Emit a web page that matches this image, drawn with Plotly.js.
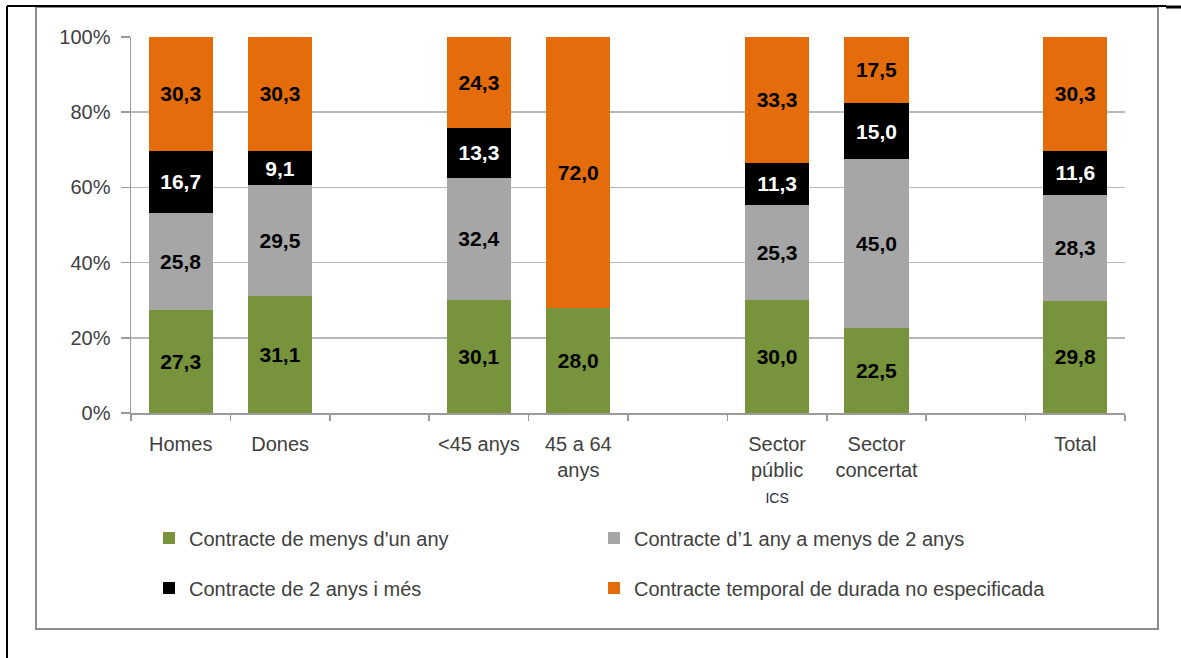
<!DOCTYPE html>
<html>
<head>
<meta charset="utf-8">
<script src="https://cdn.plot.ly/plotly-3.0.1.min.js"></script>
<style>html,body{margin:0;padding:0;background:#fff;}#chart{width:1181px;height:658px;}</style>
</head>
<body>
<div id="chart"></div>
<script>
// Categories (blank slots are the gaps between groups)
const categories = ["Homes", "Dones", " ", "<45 anys", "45 a 64<br>anys", "  ",
  "Sector<br>públic<br><span style=\"font-size:14px;color:#1f2a44\">ICS</span>", "Sector<br>concertat", "   ", "Total"];
const seriesNames = ["Contracte de menys d'un any", "Contracte d\u20191 any a menys de 2 anys",
  "Contracte de 2 anys i més", "Contracte temporal de durada no especificada"];
const menysUnAny   = [27.3, 31.1, null, 30.1, 28.0, null, 30.0, 22.5, null, 29.8];
const unADosAnys   = [25.8, 29.5, null, 32.4, null, null, 25.3, 45.0, null, 28.3];
const dosAnysIMes  = [16.7,  9.1, null, 13.3, null, null, 11.3, 15.0, null, 11.6];
const noEspecif    = [30.3, 30.3, null, 24.3, 72.0, null, 33.3, 17.5, null, 30.3];
const yTickVals = [0, 20, 40, 60, 80, 100];
const yTickText = yTickVals.map(v => v + "%");

const colors = ["#77933C", "#A6A6A6", "#000000", "#E46C0A"];
const textColors = ["#000000", "#000000", "#ffffff", "#000000"];
const seriesVals = [menysUnAny, unADosAnys, dosAnysIMes, noEspecif];
const legendIds = ["legend", "legend2", "legend3", "legend4"];

const fmt = v => (v === null ? "" : v.toFixed(1).replace(".", ","));

const traces = seriesVals.map((vals, i) => ({
  type: "bar",
  name: seriesNames[i],
  x: categories,
  y: vals,
  text: vals.map(fmt),
  textposition: "inside",
  insidetextanchor: "middle",
  textangle: 0,
  constraintext: "none",
  textfont: {family: "Liberation Sans, Arial, sans-serif", size: 21, color: textColors[i], weight: "bold"},
  marker: {color: colors[i], line: {width: 0}},
  legend: legendIds[i],
  hoverinfo: "skip"
}));

// pixel helpers for decoration shapes / placement
const PL = 131, PR = 1125, PT = 37, PB = 413;
const px = x => (x - PL) / (PR - PL);
const py = y => (PB - y) / (PB - PT);

const legendBase = {
  orientation: "h", xanchor: "left", yanchor: "middle",
  font: {size: 20, color: "#404040"}, bgcolor: "rgba(0,0,0,0)"
};

const layout = {
  width: 1181, height: 658,
  margin: {l: PL, r: 1181 - PR, t: PT, b: 658 - PB},
  paper_bgcolor: "#ffffff", plot_bgcolor: "#ffffff",
  barmode: "stack",
  bargap: 0.355,
  font: {family: "Liberation Sans, Arial, sans-serif", size: 20, color: "#404040"},
  showlegend: true,
  xaxis: {
    type: "category",
    categoryorder: "array", categoryarray: categories,
    tickson: "boundaries",
    ticks: "outside", ticklen: 6, tickcolor: "#9a9a9a", tickwidth: 1.5,
    ticklabelstandoff: 12,
    showline: true, linecolor: "#9a9a9a", linewidth: 1.5,
    showgrid: false, zeroline: false,
    tickfont: {size: 20, color: "#404040"},
    fixedrange: true
  },
  yaxis: {
    range: [0, 100],
    tickmode: "array", tickvals: yTickVals, ticktext: yTickText,
    ticks: "outside", ticklen: 9, tickcolor: "#9a9a9a", tickwidth: 1.5,
    ticklabelstandoff: 6,
    showline: true, linecolor: "#9a9a9a", linewidth: 1.5,
    showgrid: true, gridcolor: "#b8b8b8", gridwidth: 1.5,
    zeroline: false,
    tickfont: {size: 20, color: "#404040"},
    fixedrange: true
  },
  legend:  Object.assign({}, legendBase, {x: px(149), y: py(538)}),
  legend2: Object.assign({}, legendBase, {x: px(594), y: py(538)}),
  legend3: Object.assign({}, legendBase, {x: px(149), y: py(588)}),
  legend4: Object.assign({}, legendBase, {x: px(594), y: py(588)}),
  shapes: [
    // gray chart frame
    {type: "rect", xref: "paper", yref: "paper", x0: px(36), x1: px(1158), y0: py(629), y1: py(7),
      line: {color: "#8c8c8c", width: 2}, fillcolor: "rgba(0,0,0,0)", layer: "below"},
    // black table borders
    {type: "line", xref: "paper", yref: "paper", x0: px(7), x1: px(1166), y0: py(6), y1: py(6),
      line: {color: "#000000", width: 2}},
    {type: "line", xref: "paper", yref: "paper", x0: px(1166), x1: px(1181), y0: py(7), y1: py(7),
      line: {color: "#000000", width: 3}},
    {type: "line", xref: "paper", yref: "paper", x0: px(7), x1: px(7), y0: py(6), y1: py(658),
      line: {color: "#000000", width: 2}}
  ]
};

Plotly.newPlot("chart", traces, layout, {displayModeBar: false, staticPlot: true});
</script>
</body>
</html>
